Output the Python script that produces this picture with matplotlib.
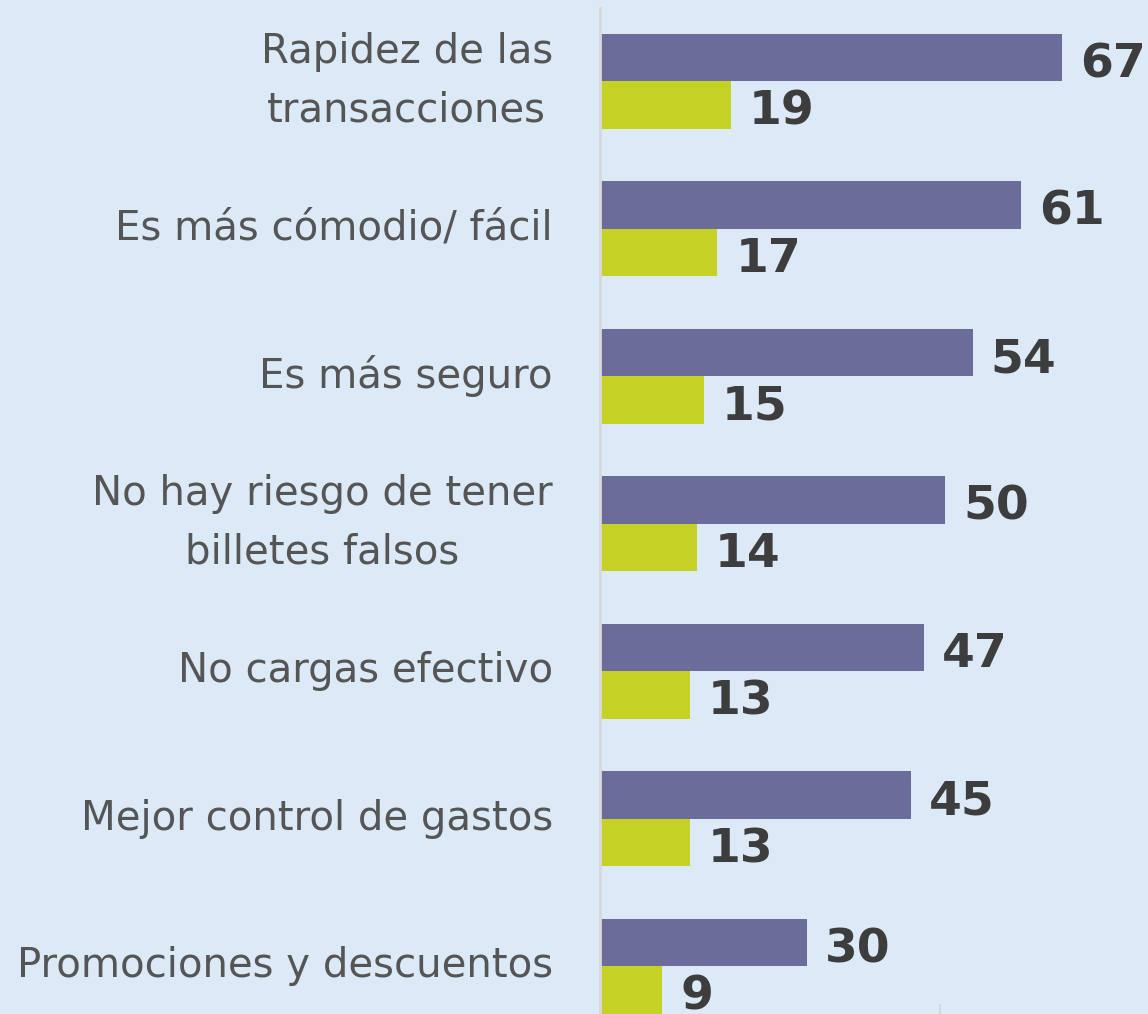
import matplotlib
matplotlib.use('Agg')
from matplotlib import pyplot as plt
import numpy as np

categories = ['Rapidez de las\ntransacciones', 'Es más cómodio/ fácil', 'Es más seguro',
              'No hay riesgo de tener\nbilletes falsos', 'No cargas efectivo',
              'Mejor control de gastos', 'Promociones y descuentos']
serie_a = [67, 61, 54, 50, 47, 45, 30]
serie_b = [19, 17, 15, 14, 13, 13, 9]

bg = '#DCE9F6'
col_a = '#6C6C9A'
col_b = '#C5D225'

fig = plt.figure(figsize=(11.48, 10.14), dpi=100)
fig.patch.set_facecolor(bg)
ax = fig.add_axes([600/1148, 0, 548/1148, 1006/1014])
ax.set_facecolor(bg)

y = np.arange(len(categories))
h = 0.322
ax.barh(y - h/2, serie_a, height=h, color=col_a)
ax.barh(y + h/2, serie_b, height=h, color=col_b)

ax.set_xlim(0, 548/6.9)
ax.set_ylim(6.325, -0.495)

for i in range(len(categories)):
    ax.annotate(str(serie_a[i]), (serie_a[i], y[i] - h/2), xytext=(13, -5.5), textcoords='offset points',
                ha='left', va='center', fontsize=34, fontweight='bold', color='#3D3D3D',
                annotation_clip=False)
    ax.annotate(str(serie_b[i]), (serie_b[i], y[i] + h/2), xytext=(13, -5.5), textcoords='offset points',
                ha='left', va='center', fontsize=34, fontweight='bold', color='#3D3D3D',
                annotation_clip=False)
    ax.annotate(categories[i], (0, y[i]), xytext=(-34, 0), textcoords='offset points',
                ha='right', va='center', multialignment='center', fontsize=29,
                color='#555555', linespacing=1.6, annotation_clip=False)

for s in ['top', 'right', 'bottom']:
    ax.spines[s].set_visible(False)
ax.spines['left'].set_color('#D8D8D8')
ax.spines['left'].set_linewidth(2)
ax.set_yticks([])
ax.set_xticks([49.3])
ax.set_xticklabels([''])
ax.tick_params(axis='x', length=7, width=1.5, color='#D8D8D8', direction='in')

fig.savefig('out.png', dpi=100, facecolor=bg)
